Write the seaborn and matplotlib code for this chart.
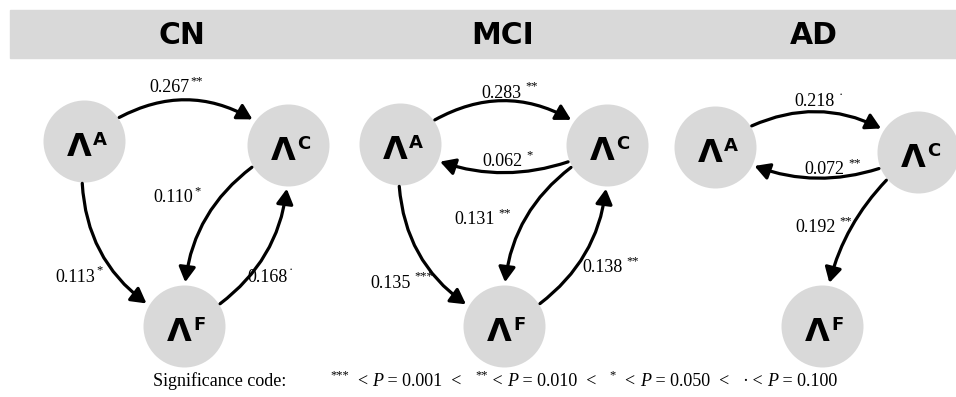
import numpy as np
import pandas as pd
import seaborn as sns
import matplotlib.pyplot as plt
from matplotlib.patches import FancyArrowPatch, Rectangle

# path coefficients between the three Lambda factors, per group
groups = ['CN', 'MCI', 'AD']
nodes = ['A', 'C', 'F']

edge_group = ['CN', 'CN', 'CN', 'CN', 'MCI', 'MCI', 'MCI', 'MCI', 'MCI', 'AD', 'AD', 'AD']
edge_src = ['A', 'C', 'A', 'F', 'A', 'C', 'C', 'A', 'F', 'A', 'C', 'C']
edge_dst = ['C', 'F', 'F', 'C', 'C', 'A', 'F', 'F', 'C', 'C', 'A', 'F']
edge_coef = [0.267, 0.110, 0.113, 0.168, 0.283, 0.062, 0.131, 0.135, 0.138, 0.218, 0.072, 0.192]
edge_sig = ['**', '*', '*', '.', '**', '*', '**', '***', '**', '.', '**', '**']

# significance code thresholds
sig_marks = ['***', '**', '*', '.']
sig_levels = [0.001, 0.010, 0.050, 0.100]

# layout (pixel coordinates of the 956x397 canvas)
node_pos = {
    'CN': {'A': (84, 141), 'C': (288, 145), 'F': (184, 326)},
    'MCI': {'A': (400, 144), 'C': (607, 145), 'F': (504, 326)},
    'AD': {'A': (715, 147), 'C': (918, 152), 'F': (822, 326)},
}
title_x = [182, 503, 814]
edge_rad = [-0.42, 0.33, 0.36, 0.33, -0.42, -0.27, 0.33, 0.36, 0.33, -0.37, -0.28, 0.22]
label_xy = [(176, 88), (177, 198), (79, 277), (271, 277),
            (509, 93), (507, 162), (482, 220), (401, 283), (610, 268),
            (819, 102), (832, 170), (823, 228)]

sup_char = {'***': '***', '**': '**', '*': '*', '.': '\u00b7'}
grey = '#d9d9d9'
serif = 'Liberation Serif'
node_r = 41

sns.set_theme(style='white')
plt.rcParams['font.family'] = ['DejaVu Sans']
plt.rcParams['text.color'] = 'black'

fig = plt.figure(figsize=(9.56, 3.97), dpi=100)
ax = fig.add_axes([0, 0, 1, 1])

# header band + titles
ax.add_patch(Rectangle((10, 10), 946, 48, color=grey, zorder=0))
for g, x in zip(groups, title_x):
    ax.text(x, 44, g, fontsize=21.5, fontweight='bold', ha='center', va='baseline')

# nodes
node_df = pd.DataFrame([(g, n, *node_pos[g][n]) for g in groups for n in nodes],
                       columns=['group', 'node', 'x', 'y'])
sns.scatterplot(data=node_df, x='x', y='y', s=(2 * node_r * 0.72) ** 2, color=grey,
                linewidth=0, legend=False, ax=ax, zorder=1)
for _, row in node_df.iterrows():
    ax.text(row.x - 5, row.y + 15, '\u039b', fontsize=23, fontweight='bold',
            ha='center', va='baseline', zorder=4)
    ax.text(row.x + 9, row.y + 4, row.node, fontsize=13, fontweight='bold',
            ha='left', va='baseline', zorder=4)

# edges
shrink = node_r * 0.72
for g, s, d, c, sig, rad, (lx, ly) in zip(edge_group, edge_src, edge_dst, edge_coef,
                                          edge_sig, edge_rad, label_xy):
    arr = FancyArrowPatch(node_pos[g][s], node_pos[g][d],
                          connectionstyle=f'arc3,rad={rad}',
                          arrowstyle='-|>,head_length=0.5,head_width=0.28',
                          mutation_scale=18, lw=2.3, color='black',
                          shrinkA=shrink + 1, shrinkB=shrink + 2, zorder=3)
    ax.add_patch(arr)
    gap = 0.5 if g == 'CN' else 2.5
    num = ax.text(lx - 3 * len(sig) - gap / 2, ly, f'{c:.3f}', fontsize=13, family=serif,
                  ha='center', va='center', zorder=4)
    ax.annotate(sup_char[sig], xy=(1, 0.55), xycoords=num, xytext=(gap, 0),
                textcoords='offset points', fontsize=9, family=serif,
                ha='left', va='bottom', zorder=4)

# significance legend, laid out piece by piece on one baseline
base = ax.text(153, 386, 'Significance code:', fontsize=13, family=serif, va='baseline')
pieces = []
for i, (mark, lev) in enumerate(zip(sig_marks, sig_levels)):
    pieces.append((sup_char[mark], 'n' if mark == '.' else 'sup'))
    pieces.append(('  < ' if i % 2 == 0 else ' < ', 'n'))
    pieces.append(('P', 'it'))
    pieces.append((f' = {lev:.3f}' + ('  <   ' if i < 3 else ''), 'n'))

prev = None
for txt, kind in pieces:
    if prev is None:
        xy, coords = (330, 0), ('data', base)
    else:
        xy, coords = (1, 0), (prev, base)
    prev = ax.annotate(txt, xy=xy, xycoords=coords,
                       xytext=(0, 6 if kind == 'sup' else 0), textcoords='offset points',
                       fontsize=9 if kind == 'sup' else 13, family=serif,
                       style='italic' if kind == 'it' else 'normal',
                       ha='left', va='bottom')

ax.set_xlim(0, 956)
ax.set_ylim(397, 0)
ax.axis('off')
fig.savefig('out.png', dpi=100)
